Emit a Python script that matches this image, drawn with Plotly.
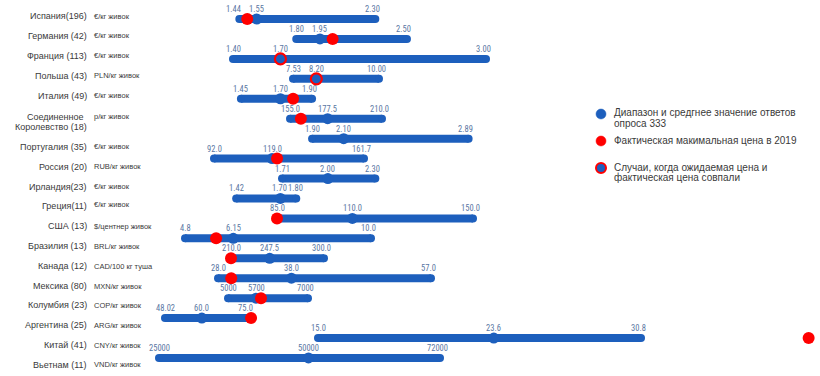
import plotly.graph_objects as go

# ---------------- data ----------------
countries = ["Испания(196)", "Германия (42)", "Франция (113)", "Польша (43)", "Италия (49)",
             "Соединенное|Королевство (18)", "Португалия (35)", "Россия (20)", "Ирландия(23)",
             "Греция(11)", "США (13)", "Бразилия (13)", "Канада (12)", "Мексика (80)",
             "Колумбия (23)", "Аргентина (25)", "Китай (41)", "Вьетнам (11)"]
units = ["€/кг живок", "€/кг живок", "€/кг живок", "PLN/кг живок", "€/кг живок", "р/кг живок",
         "€/кг живок", "RUB/кг живок", "€/кг живок", "€/кг живок", "$/центнер живок",
         "BRL/кг живок", "CAD/100 кг туша", "MXN/кг живок", "COP/кг живок", "ARG/кг живок",
         "CNY/кг живок", "VND/кг живок"]
currency = ["EUR", "EUR", "EUR", "PLN", "EUR", "GBP", "EUR", "RUB", "EUR", "EUR", "USD",
            "BRL", "CAD", "MXN", "COP", "ARS", "CNY", "VND"]
low = [1.44, 1.80, 1.40, 7.53, 1.45, 155.0, 1.90, 92.0, 1.71, 1.42, 85.0, 4.8, 210.0, 28.0,
       5000, 48.02, 15.0, 25000]
mean = [1.55, 1.95, 1.70, 8.20, 1.70, 177.5, 2.10, 119.0, 2.00, 1.70, 110.0, 6.15, 247.5, 38.0,
        5700, 60.0, 23.6, 50000]
high = [2.30, 2.50, 3.00, 10.00, 1.90, 210.0, 2.89, 161.7, 2.30, 1.80, 150.0, 10.0, 300.0, 57.0,
        7000, 75.0, 30.8, 72000]
actual = [1.49, 2.03, 1.70, 8.20, 1.78, 161.5, None, 121.3, None, None, 85.0, 5.67, 210.0, 29.8,
          5825, 76.0, 39.0, None]
decimals = [2, 2, 2, 2, 2, 1, 2, 1, 2, 2, 1, 1, 1, 1, 0, 1, 1, 0]

legend_texts = [["Диапазон и средгнее значение ответов", "опроса 333"],
                ["Фактическая макимальная цена в 2019"],
                ["Случаи, когда ожидаемая цена и", "фактическая цена совпали"]]

# ---------------- style ----------------
W, H = 820, 376
BLUE = "#1D5FBD"
RED = "#FF0000"
LBL = "#5A77A3"
TXT = "#3A3A3A"
NARROW = "Roboto Condensed, Liberation Sans Narrow, DejaVu Sans Condensed, Roboto, sans-serif"
SANS = "Liberation Sans, Arial, sans-serif"

ROW0, ROWSTEP = 19.0, 19.94  # pixel layout of rows

# per-currency axis calibration: (value a, pixel a), (value b, pixel b)
calib = {
    "EUR": ((1.40, 233), (3.00, 486)),
    "PLN": ((7.53, 293), (10.00, 379)),
    "GBP": ((155, 290), (210, 382)),
    "RUB": ((92, 214), (161.7, 364)),
    "USD": ((85, 277), (150, 473)),
    "BRL": ((4.8, 185), (10.0, 371)),
    "CAD": ((210, 231), (300, 324)),
    "MXN": ((28, 218), (57, 431)),
    "COP": ((5000, 228), (7000, 308)),
    "ARS": ((48.02, 165), (75, 248)),
    "CNY": ((15, 318), (30.8, 641)),
    "VND": ((25000, 159), (72000, 440)),
}
# small manual nudges of value labels to avoid collisions (row, which) -> px
nudge = {(0, "low"): -6, (9, "mean"): -1, (9, "high"): 2}


def px(p):
    return p / W


def py(p):
    return 1 - p / H


def fmt(v, d):
    s = f"{v:.{d}f}"
    while float(s) != v and d < 4:
        d += 1
        s = f"{v:.{d}f}"
    return s


fig = go.Figure()
layout_axes = {}
axis_of = {}
for k, cur in enumerate(calib):
    (va, pa), (vb, pb) = calib[cur]
    s = (pb - pa) / (vb - va)
    rng = [va - pa / s, va + (W - pa) / s]
    name = "xaxis" if k == 0 else f"xaxis{k + 1}"
    ref = "x" if k == 0 else f"x{k + 1}"
    ax = dict(range=rng, visible=False, domain=[0, 1], fixedrange=True)
    if k > 0:
        ax.update(overlaying="x", anchor="y")
    layout_axes[name] = ax
    axis_of[cur] = ref

annotations = []
for i in range(len(countries)):
    xr = axis_of[currency[i]]
    # bar
    fig.add_trace(go.Scatter(x=[low[i], high[i]], y=[i, i], xaxis=xr, yaxis="y",
                             mode="lines+markers", line=dict(color=BLUE, width=8),
                             marker=dict(color=BLUE, size=8), hoverinfo="skip",
                             showlegend=False))
    same = actual[i] is not None and abs(actual[i] - mean[i]) < 1e-9
    if same:
        fig.add_trace(go.Scatter(x=[mean[i]], y=[i], xaxis=xr, yaxis="y", mode="markers",
                                 marker=dict(color=BLUE, size=11, line=dict(color=RED, width=2.2)),
                                 showlegend=False))
    else:
        fig.add_trace(go.Scatter(x=[mean[i]], y=[i], xaxis=xr, yaxis="y", mode="markers",
                                 marker=dict(color=BLUE, size=11), showlegend=False))
        if actual[i] is not None:
            fig.add_trace(go.Scatter(x=[actual[i]], y=[i], xaxis=xr, yaxis="y", mode="markers",
                                     marker=dict(color=RED, size=12), showlegend=False))
    # value labels
    for v, which, xs in ((low[i], "low", 0), (mean[i], "mean", 0), (high[i], "high", -3)):
        annotations.append(dict(x=v, y=i, xref=xr, yref="y", text=fmt(v, decimals[i]),
                                showarrow=False, yshift=10,
                                xshift=xs + nudge.get((i, which), 0),
                                font=dict(family=NARROW, size=8.5, color=LBL)))
    # country label
    yshift = 3 if i < 5 else (-8 if i < 14 else -7)
    if "|" in countries[i]:
        l1, l2 = countries[i].split("|")
        annotations.append(dict(x=px(86), y=i, xref="paper", yref="y", text=l1, showarrow=False,
                                xanchor="right", yshift=2, font=dict(family=SANS, size=9, color=TXT)))
        annotations.append(dict(x=px(89), y=i, xref="paper", yref="y", text=l2, showarrow=False,
                                xanchor="right", yshift=-8, font=dict(family=SANS, size=9, color=TXT)))
        uy = 2
    else:
        annotations.append(dict(x=px(89), y=i, xref="paper", yref="y", text=countries[i],
                                showarrow=False, xanchor="right", yshift=yshift,
                                font=dict(family=SANS, size=9, color=TXT)))
        uy = yshift + (2 if i == 9 else 0)
    annotations.append(dict(x=px(92), y=i, xref="paper", yref="y", text=units[i],
                            showarrow=False, xanchor="left", yshift=uy,
                            font=dict(family=SANS, size=7.5, color=TXT)))

# legend (drawn manually)
shapes = []
leg_dot_y = [114, 141, 168]
for j, lines in enumerate(legend_texts):
    if j == 0:
        fill, border = BLUE, BLUE
    elif j == 1:
        fill, border = RED, RED
    else:
        fill, border = BLUE, RED
    shapes.append(dict(type="circle", xref="paper", yref="paper", xsizemode="pixel",
                       ysizemode="pixel", xanchor=px(601), yanchor=py(leg_dot_y[j]),
                       x0=-5, x1=5, y0=-5, y1=5,
                       fillcolor=fill, line=dict(color=border, width=2 if j == 2 else 0.5)))
    for li, t in enumerate(lines):
        annotations.append(dict(x=px(612), y=py(leg_dot_y[j] - 1 + li * 10), xref="paper",
                                yref="paper", text=t, showarrow=False, xanchor="left",
                                yanchor="middle", font=dict(family=SANS, size=10, color=TXT)))

fig.update_layout(
    width=W, height=H, autosize=False,
    margin=dict(l=0, r=0, t=0, b=0, pad=0),
    paper_bgcolor="white", plot_bgcolor="white",
    yaxis=dict(range=[(H - ROW0) / ROWSTEP, -ROW0 / ROWSTEP], visible=False, fixedrange=True),
    annotations=annotations, shapes=shapes, showlegend=False,
    **layout_axes,
)

fig.write_html("out.html", config={"displayModeBar": False},
               post_script="document.body.style.margin='0';")
